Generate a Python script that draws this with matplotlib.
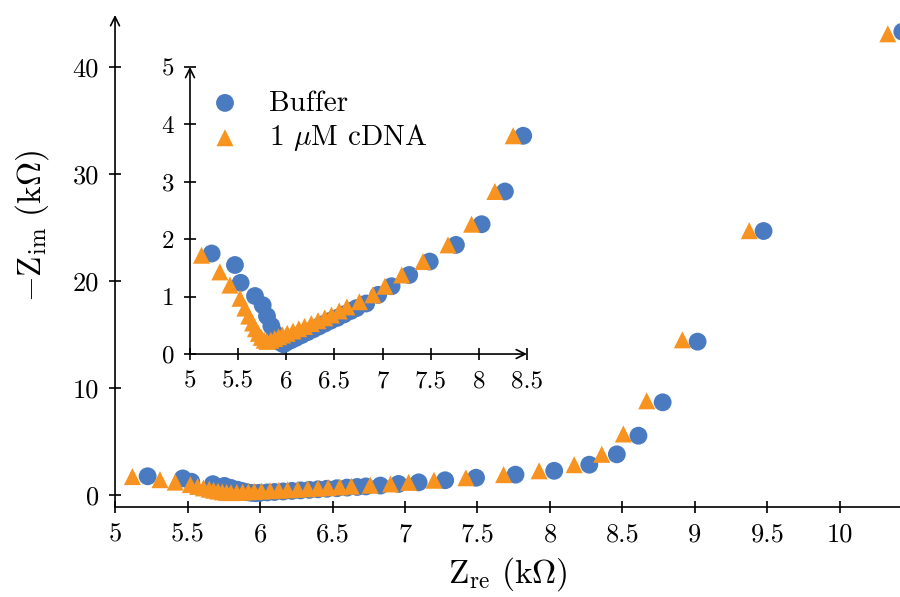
import matplotlib
matplotlib.use('Agg')
import numpy as np
import matplotlib.pyplot as plt
from matplotlib.ticker import FuncFormatter

# Nyquist data (kOhm)
buffer_re = [5.225, 5.467, 5.526, 5.675, 5.755, 5.80, 5.845, 5.88, 5.91, 5.94, 5.97,
             6.00, 6.05, 6.10, 6.16, 6.22, 6.28, 6.34, 6.40, 6.46, 6.53, 6.60, 6.67, 6.73,
             6.83, 6.955, 7.094, 7.277, 7.49, 7.762, 8.029, 8.271, 8.461,
             8.61, 8.777, 9.018, 9.473, 10.43]
buffer_im = [1.75, 1.55, 1.24, 1.01, 0.85, 0.66, 0.49, 0.36, 0.26, 0.20, 0.17,
             0.20, 0.24, 0.28, 0.33, 0.38, 0.43, 0.48, 0.53, 0.58, 0.63, 0.69, 0.75, 0.80,
             0.88, 1.03, 1.18, 1.376, 1.61, 1.90, 2.26, 2.83, 3.80,
             5.54, 8.66, 14.33, 24.67, 43.3]

cdna_re = [5.12, 5.31, 5.415, 5.52, 5.57, 5.61, 5.65, 5.68, 5.71, 5.74, 5.77, 5.80,
           5.84, 5.88, 5.92, 5.96, 6.01, 6.07, 6.13, 6.19, 6.26, 6.33, 6.40, 6.47, 6.55, 6.63,
           6.76, 6.90, 7.025, 7.20, 7.42, 7.68, 7.925, 8.167, 8.357,
           8.506, 8.667, 8.913, 9.374, 10.33]
cdna_im = [1.72, 1.43, 1.20, 0.97, 0.80, 0.66, 0.54, 0.44, 0.36, 0.29, 0.24, 0.22,
           0.24, 0.27, 0.30, 0.33, 0.36, 0.40, 0.44, 0.48, 0.53, 0.58, 0.63, 0.68, 0.75, 0.82,
           0.91, 1.03, 1.18, 1.376, 1.61, 1.90, 2.26, 2.83, 3.80,
           5.7, 8.8, 14.5, 24.7, 43.1]

blue = '#4a7bc0'
orange = '#f7931e'

plt.rcParams['font.family'] = 'serif'
plt.rcParams['font.serif'] = ['cmr10']
plt.rcParams['mathtext.fontset'] = 'cm'
plt.rcParams['axes.unicode_minus'] = False

fmt = FuncFormatter(lambda v, p: '%g' % v)

fig = plt.figure(figsize=(9, 5.97), dpi=100)

arrow = dict(arrowstyle='->', lw=1.2, color='black', shrinkA=0, shrinkB=0,
             mutation_scale=16)


def style_axes(ax, size):
    ax.spines['top'].set_visible(False)
    ax.spines['right'].set_visible(False)
    for s in ['left', 'bottom']:
        ax.spines[s].set_linewidth(1.2)
    ax.tick_params(direction='inout', length=9, width=1.2, labelsize=size, pad=7)
    ax.xaxis.set_major_formatter(fmt)
    ax.yaxis.set_major_formatter(fmt)
    ax.patch.set_alpha(0)


# main axes
ax = fig.add_axes([0.1278, 0.1508, 0.8722, 0.8241])
ax.scatter(buffer_re, buffer_im, s=165, color=blue, edgecolors='none', zorder=3)
ax.scatter(cdna_re, cdna_im, s=150, marker='^', color=orange, edgecolors='none', zorder=4)
ax.set_xlim(5, 10.414)
ax.set_ylim(-1.12, 44.86)
ax.set_xticks(np.arange(5, 10.01, 0.5))
ax.set_yticks([0, 10, 20, 30, 40])
style_axes(ax, 19)
ax.spines['left'].set_visible(False)
ax.annotate('', xy=(0, 1.0), xytext=(0, 0), xycoords='axes fraction', arrowprops=arrow)
ax.set_xlabel(r'$\mathrm{Z}_{\mathrm{re}}\ (\mathrm{k}\Omega)$', fontsize=24, labelpad=6)
ax.set_ylabel(r'$-\mathrm{Z}_{\mathrm{im}}\ (\mathrm{k}\Omega)$', fontsize=24)
ax.yaxis.set_label_coords(-0.082, 0.57)

# inset
ins = fig.add_axes([0.2111, 0.407, 0.3744, 0.481])
b_re = np.array(buffer_re)
b_im = np.array(buffer_im)
c_re = np.array(cdna_re)
c_im = np.array(cdna_im)
mb = (b_re <= 8.5) & (b_im <= 5)
mc = (c_re <= 8.5) & (c_im <= 5)
ins.scatter(b_re[mb], b_im[mb], s=165, color=blue, edgecolors='none', zorder=3,
            clip_on=False, label='Buffer')
ins.scatter(c_re[mc], c_im[mc], s=150, marker='^', color=orange, edgecolors='none',
            zorder=4, clip_on=False, label=r'1 $\mu$M cDNA')
ins.set_xlim(5, 8.5)
ins.set_ylim(0, 5)
ins.set_xticks(np.arange(5, 8.51, 0.5))
ins.set_yticks([0, 1, 2, 3, 4, 5])
style_axes(ins, 18)
ins.spines['left'].set_visible(False)
ins.spines['bottom'].set_visible(False)
ins.annotate('', xy=(0, 1.0), xytext=(0, 0), xycoords='axes fraction', arrowprops=arrow)
ins.annotate('', xy=(1.0, 0), xytext=(0, 0), xycoords='axes fraction', arrowprops=arrow)
ins.legend(loc='upper left', bbox_to_anchor=(0.0, 0.99), frameon=False, fontsize=21,
           handlelength=1.0, handletextpad=1.0, labelspacing=0.2, borderaxespad=0.3)

fig.savefig('out.png', dpi=100)
